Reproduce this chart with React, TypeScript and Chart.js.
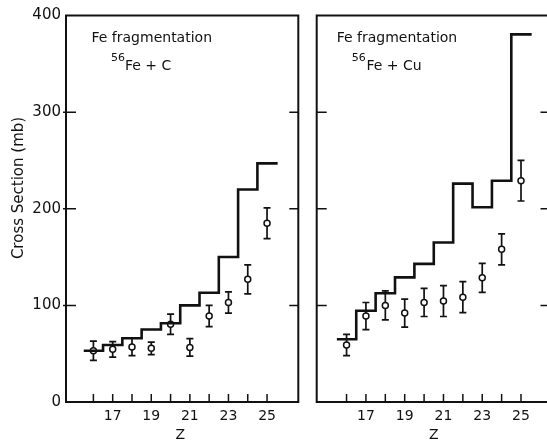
import React, { useEffect, useRef } from "react";
import { Chart, registerables } from "chart.js";
Chart.register(...registerables);

// ---- data ----
const Z = [16, 17, 18, 19, 20, 21, 22, 23, 24, 25];
const zTickLabels = ["17", "19", "21", "23", "25"];
const yTicks = [0, 100, 200, 300, 400];

// 56Fe + C
const calcC = [53, 59, 66, 75, 81.5, 100, 113, 150, 220, 247];
const measC = [53, 54.5, 57, 55.5, 80.5, 56.5, 89, 103, 127, 185];
const errC = [10, 8, 9, 6.5, 10.5, 9, 11, 11, 15, 16];

// 56Fe + Cu
const calcCu = [65, 94.5, 112.5, 129, 143, 165, 226, 201.5, 229, 380.5];
const measCu = [59, 89, 100, 92, 103, 104.5, 108.5, 128.5, 158, 229];
const errCu = [11, 14, 15, 14.5, 14.5, 16, 16, 15, 16, 21];

const FONT = "'DejaVu Sans', sans-serif";
const INK = "#111";

type PanelCfg = {
  calc: number[];
  meas: number[];
  err: number[];
  target: string;
  showYLabels: boolean;
  yAxisWidth: number;
  padRight: number;
  xMin: number;
  xMax: number;
  textX: number;
  supX: number;
  fe2X: number;
};

function buildChart(canvas: HTMLCanvasElement, p: PanelCfg) {
  const stepData = [
    { x: Z[0] - 0.5, y: p.calc[0] },
    ...Z.map((z, i) => ({ x: z, y: p.calc[i] })),
    { x: Z[Z.length - 1] + 0.55, y: p.calc[p.calc.length - 1] },
  ];
  const pointData = Z.map((z, i) => ({ x: z, y: p.meas[i] }));

  const panelPlugin = {
    id: "panelDeco",
    beforeDatasetsDraw(chart: any) {
      const { ctx, scales } = chart;
      const x = scales.x, y = scales.y;
      ctx.save();
      ctx.strokeStyle = INK;
      ctx.lineWidth = 1.7;
      Z.forEach((z, i) => {
        const px = x.getPixelForValue(z);
        const t = y.getPixelForValue(p.meas[i] + p.err[i]);
        const b = y.getPixelForValue(p.meas[i] - p.err[i]);
        ctx.beginPath();
        ctx.moveTo(px, t);
        ctx.lineTo(px, b);
        ctx.moveTo(px - 3.5, t);
        ctx.lineTo(px + 3.5, t);
        ctx.moveTo(px - 3.5, b);
        ctx.lineTo(px + 3.5, b);
        ctx.stroke();
      });
      ctx.restore();
    },
    afterDraw(chart: any) {
      const { ctx, chartArea: a, scales } = chart;
      const x = scales.x, y = scales.y;
      ctx.save();
      ctx.strokeStyle = INK;
      ctx.fillStyle = INK;
      // inside ticks
      ctx.lineWidth = 1.5;
      Z.forEach((z) => {
        const px = x.getPixelForValue(z);
        ctx.beginPath();
        ctx.moveTo(px, a.bottom);
        ctx.lineTo(px, a.bottom - 8);
        ctx.stroke();
      });
      yTicks.slice(1, -1).forEach((v) => {
        const py = y.getPixelForValue(v);
        ctx.beginPath();
        ctx.moveTo(a.left - (p.showYLabels ? 3 : 0), py);
        ctx.lineTo(a.left + 10, py);
        ctx.moveTo(a.right, py);
        ctx.lineTo(a.right - 9, py);
        ctx.stroke();
      });
      // frame
      ctx.lineWidth = 2;
      ctx.strokeRect(a.left, a.top, a.right - a.left, a.bottom - a.top);
      // axis titles
      ctx.textAlign = "center";
      ctx.textBaseline = "middle";
      ctx.font = `14px ${FONT}`;
      ctx.fillText("Z", x.getPixelForValue(20.5), 435);
      if (p.showYLabels) {
        ctx.save();
        ctx.translate(19, 188);
        ctx.rotate(-Math.PI / 2);
        ctx.font = `15px ${FONT}`;
        ctx.fillText("Cross Section (mb)", 0, 0);
        ctx.restore();
      }
      // panel annotation
      ctx.textAlign = "left";
      ctx.font = `14px ${FONT}`;
      ctx.fillText("Fe fragmentation", p.textX, 38.5);
      ctx.font = `11px ${FONT}`;
      ctx.fillText("56", p.supX, 58);
      ctx.font = `14px ${FONT}`;
      ctx.fillText(p.target, p.fe2X, 66.5);
      ctx.restore();
    },
  };

  return new Chart(canvas, {
    type: "scatter",
    data: {
      datasets: [
        {
          type: "line",
          label: "calc",
          data: stepData,
          stepped: "middle",
          borderColor: INK,
          borderWidth: 2.6,
          pointRadius: 0,
          fill: false,
          showLine: true,
        } as any,
        {
          label: "meas",
          data: pointData,
          pointRadius: 3,
          pointBackgroundColor: "#fff",
          pointBorderColor: INK,
          pointBorderWidth: 1.5,
          showLine: false,
        },
      ],
    },
    options: {
      animation: false,
      responsive: false,
      events: [],
      layout: { padding: { top: 15.5, right: p.padRight, left: 0, bottom: 0 } },
      plugins: { legend: { display: false }, tooltip: { enabled: false } },
      scales: {
        x: {
          type: "linear",
          min: p.xMin,
          max: p.xMax,
          afterBuildTicks: (s: any) => {
            s.ticks = Z.map((v) => ({ value: v }));
          },
          afterFit: (s: any) => {
            s.height = 38;
          },
          grid: { display: false, drawTicks: false },
          border: { display: false },
          ticks: {
            autoSkip: false,
            maxRotation: 0,
            padding: 6,
            color: INK,
            font: { family: FONT, size: 14 },
            callback: (v: any) => (zTickLabels.includes(String(v)) ? String(v) : ""),
          },
        },
        y: {
          type: "linear",
          min: 0,
          max: 400,
          afterBuildTicks: (s: any) => {
            s.ticks = yTicks.map((v) => ({ value: v }));
          },
          afterFit: (s: any) => {
            s.width = p.yAxisWidth;
          },
          grid: { display: false, drawTicks: false },
          border: { display: false },
          ticks: {
            display: p.showYLabels,
            padding: 5,
            color: INK,
            font: { family: FONT, size: 15 },
          },
        },
      },
    },
    plugins: [panelPlugin],
  });
}

export default function App() {
  const leftRef = useRef<HTMLCanvasElement>(null);
  const rightRef = useRef<HTMLCanvasElement>(null);

  useEffect(() => {
    const c1 = buildChart(leftRef.current!, {
      calc: calcC,
      meas: measC,
      err: errC,
      target: "Fe + C",
      showYLabels: true,
      yAxisWidth: 66,
      padRight: 11.7,
      xMin: 14.58,
      xMax: 26.62,
      textX: 91.5,
      supX: 111,
      fe2X: 125,
    });
    const c2 = buildChart(rightRef.current!, {
      calc: calcCu,
      meas: measCu,
      err: errCu,
      target: "Fe + Cu",
      showYLabels: false,
      yAxisWidth: 11.7,
      padRight: 4,
      xMin: 14.46,
      xMax: 26.47,
      textX: 31.7,
      supX: 46.7,
      fe2X: 61.5,
    });
    return () => {
      c1.destroy();
      c2.destroy();
    };
  }, []);

  return (
    <div
      style={{
        position: "fixed",
        left: 0,
        top: 0,
        width: 547,
        height: 440,
        overflow: "hidden",
        background: "#fff",
      }}
    >
      <canvas
        ref={leftRef}
        width={310}
        height={440}
        style={{ position: "absolute", left: 0, top: 0, display: "block" }}
      />
      <canvas
        ref={rightRef}
        width={250}
        height={440}
        style={{ position: "absolute", left: 305, top: 0, display: "block" }}
      />
    </div>
  );
}
